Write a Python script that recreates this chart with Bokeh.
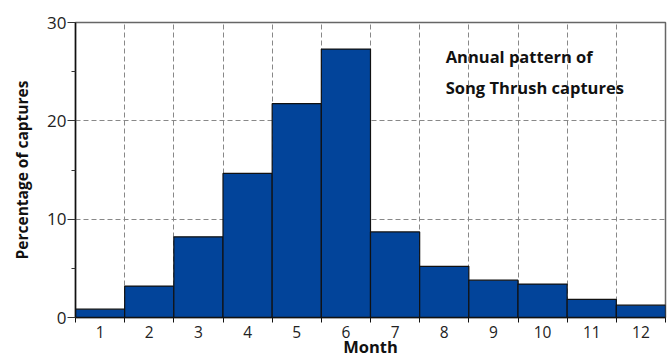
from bokeh.plotting import figure
from bokeh.models import FixedTicker, Label, Range1d
from bokeh.embed import file_html
from bokeh.resources import INLINE

months = [1, 2, 3, 4, 5, 6, 7, 8, 9, 10, 11, 12]
percentages = [0.85, 3.2, 8.2, 14.65, 21.75, 27.3, 8.7, 5.2, 3.8, 3.4, 1.85, 1.25]
x_tick_labels = [str(m) for m in months]
y_ticks = [0, 10, 20, 30]
y_minor = [5, 15, 25]
title_lines = ["Annual pattern of", "Song Thrush captures"]
x_title = "Month"
y_title = "Percentage of captures"

FONT = "Open Sans"

p = figure(width=672, height=360, output_backend="svg", toolbar_location=None,
           x_range=Range1d(0.5, 12.5), y_range=Range1d(0, 30),
           min_border_left=75, min_border_right=7, min_border_top=22, min_border_bottom=40)

p.vbar(x=months, top=percentages, width=1.0, bottom=0,
       fill_color="#02449A", line_color="#111111", line_width=1.2)

p.outline_line_color = "#666666"
p.outline_line_width = 1.5

# x axis
xa = p.xaxis[0]
xa.ticker = FixedTicker(ticks=months, minor_ticks=[m - 0.5 for m in months] + [12.5])
xa.major_label_overrides = {m: l for m, l in zip(months, x_tick_labels)}
xa.major_tick_line_color = None
xa.major_tick_out = 0
xa.major_tick_in = 0
xa.minor_tick_line_color = "#111111"
xa.minor_tick_out = 5
xa.minor_tick_in = 0
xa.axis_line_color = "#111111"
xa.axis_line_width = 1.5
xa.major_label_text_font = FONT
xa.major_label_text_font_size = "15.5px"
xa.major_label_text_color = "#222222"
xa.major_label_standoff = 3
xa.axis_label = x_title
xa.axis_label_text_font = FONT
xa.axis_label_text_font_style = "bold"
xa.axis_label_text_font_size = "16.5px"
xa.axis_label_text_color = "#111111"
xa.axis_label_standoff = -6

# y axis
ya = p.yaxis[0]
ya.ticker = FixedTicker(ticks=y_ticks, minor_ticks=y_minor)
ya.major_tick_out = 8
ya.major_tick_in = 0
ya.minor_tick_out = 4
ya.minor_tick_in = 0
ya.major_tick_line_color = "#333333"
ya.minor_tick_line_color = "#333333"
ya.axis_line_color = "#111111"
ya.axis_line_width = 1.5
ya.major_label_text_font = FONT
ya.major_label_text_font_size = "17px"
ya.major_label_text_color = "#222222"
ya.major_label_standoff = 1
ya.axis_label = y_title
ya.axis_label_text_font = FONT
ya.axis_label_text_font_style = "bold"
ya.axis_label_text_font_size = "15.5px"
ya.axis_label_text_color = "#111111"
ya.axis_label_standoff = 11

# grids
p.xgrid.grid_line_color = None
p.xgrid.minor_grid_line_color = "#888888"
p.xgrid.minor_grid_line_dash = "5 3"
p.xgrid.minor_grid_line_width = 1
p.ygrid.grid_line_color = "#888888"
p.ygrid.grid_line_dash = "5 3"
p.ygrid.grid_line_width = 1

for txt, yv in zip(title_lines, [26.5, 23.4]):
    p.add_layout(Label(x=8.03, y=yv, text=txt, text_font=FONT, text_font_style="bold",
                       text_font_size="16.5px", text_color="#111111", text_baseline="middle"))

open("out.html", "w").write(file_html(p, INLINE))
